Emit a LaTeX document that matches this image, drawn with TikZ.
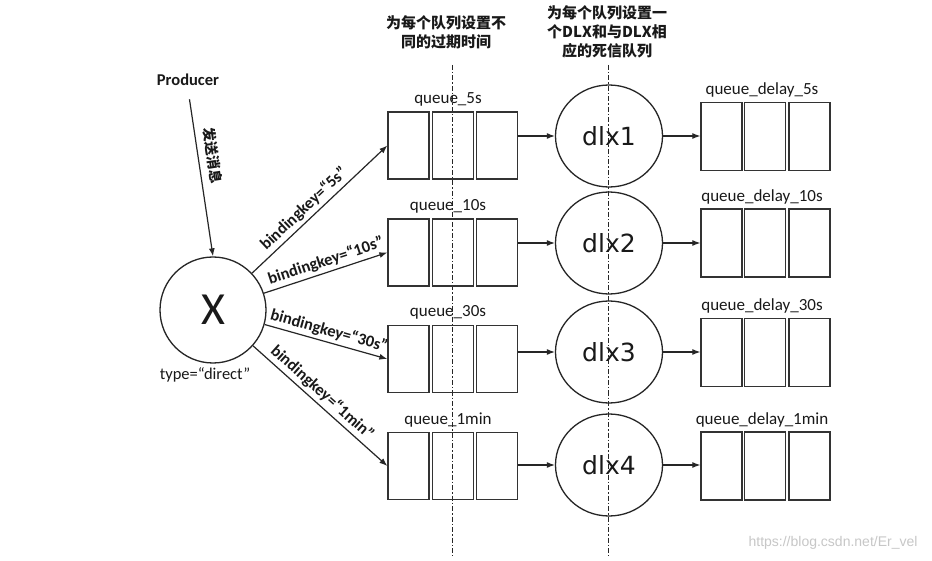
\documentclass[tikz,border=0pt]{standalone}
\usepackage{fontspec}
\setmainfont{Carlito}
\newfontfamily\cjk{Noto Sans CJK SC}
\newfontfamily\dejavu{DejaVu Sans}
\newfontfamily\wmfont{Liberation Sans}
\usetikzlibrary{shapes.geometric,arrows.meta,calc}
\begin{document}
\begin{tikzpicture}[x=1pt,y=-1pt,
  line/.style={draw=black!85, line width=1.2pt},
  arr/.style={line, -{Latex[length=8pt,width=6pt]}},
  cell/.style={draw=black!80, line width=1.3pt, minimum width=41pt, minimum height=67pt, inner sep=0pt},
  rcell/.style={cell, minimum height=68pt},
  lbl/.style={font=\fontsize{17}{20}\selectfont, text=black!90, inner sep=0pt},
  dlxnode/.style={ellipse, draw=black!85, line width=1.3pt, minimum width=107pt, minimum height=102pt, font=\dejavu\fontsize{25}{28}\selectfont, text=black!90, inner sep=0pt},
  keylbl/.style={font=\bfseries\fontsize{16.5}{19}\selectfont, text=black!90, inner sep=3pt},
  guide/.style={draw=black!85, line width=1pt, dash pattern=on 5pt off 2pt on 1.5pt off 2pt},
  head/.style={font=\cjk\bfseries\fontsize{15}{19}\selectfont, align=center, text=black!90, inner sep=0pt}
]
\useasboundingbox[fill=white] (0,0) rectangle (932,561);

% guide lines
\coordinate (g1t) at (452,65);
\coordinate (g1b) at (452,556);
\coordinate (g2t) at (608,65);
\coordinate (g2b) at (608,556);
\draw[guide] (g1t) -- (g1b);
\draw[guide] (g2t) -- (g2b);

% headers
\node[head] (h1) at (446,32) {为每个队列设置不\\同的过期时间};
\node[head] (h2) at (607,32) {为每个队列设置一\\个DLX和与DLX相\\应的死信队列};

% producer and exchange
\node[font=\bfseries\fontsize{16.5}{19}\selectfont, text=black!90] (P) at (188,80) {Producer};
\node[circle, draw=black!85, line width=1.3pt, minimum size=106pt, inner sep=0pt,
      font=\fontsize{46}{50}\selectfont, text=black!90] (X) at (213,310) {X};
\node[font=\fontsize{16.5}{19}\selectfont, text=black!90] (tp) at (205,375) {type=“direct”};
\draw[arr, shorten <=10pt] (P.south) -- node[sloped, above, pos=0.41, inner sep=7pt,
      font=\cjk\bfseries\fontsize{14}{16}\selectfont, text=black!90] {发送消息} (X.north);

% queues, dlx, delay queues
\foreach \i/\qy/\dy/\ry/\ql/\rl in {
  1/145.5/136/136.5/queue\_5s/queue\_delay\_5s,
  2/252.5/243/243/queue\_10s/queue\_delay\_10s,
  3/359/352/352.5/queue\_30s/queue\_delay\_30s,
  4/466/465/466/queue\_1min/queue\_delay\_1min}{
  \node[cell] (qa\i) at (408.5,\qy) {};
  \node[cell] (qb\i) at (453,\qy) {};
  \node[cell] (qc\i) at (497,\qy) {};
  \node[lbl, anchor=base] (ql\i) at (448,\qy-42) {\ql};
  \node[dlxnode] (d\i) at (609,\dy) {dlx\i};
  \node[rcell] (ra\i) at (721.5,\ry) {};
  \node[rcell] (rb\i) at (765,\ry) {};
  \node[rcell] (rc\i) at (809.5,\ry) {};
  \node[lbl, anchor=base] (rl\i) at (762,\ry-41.5) {\rl};
  \draw[arr] (qc\i.east |- d\i) -- (d\i);
  \draw[arr] (d\i) -- (d\i -| ra\i.west);
}

% bindings
\draw[arr] (X) -- node[keylbl, sloped, above, pos=0.44] {bindingkey=“5s”} (qa1.west);
\draw[arr] (X) -- node[keylbl, sloped, above, pos=0.53] {bindingkey=“10s”} (qa2.west);
\draw[arr] (X) -- node[keylbl, sloped, above, pos=0.5] {bindingkey=“30s”} (qa3.west);
\draw[arr] (X) -- node[keylbl, sloped, above, pos=0.46] {bindingkey=“1min”} (qa4.west);

% watermark
\node[font=\wmfont\fontsize{14}{16}\selectfont, text=black!22, anchor=east] (wm) at (921,543) {https://blog.csdn.net/Er\_vel};
\end{tikzpicture}
\end{document}
